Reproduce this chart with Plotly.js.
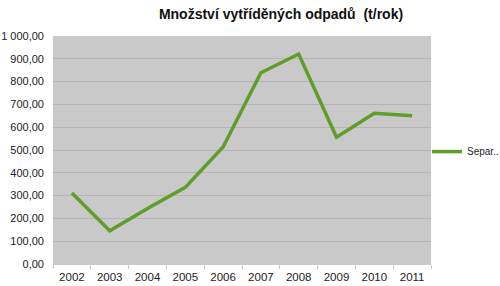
<!DOCTYPE html>
<html><head><meta charset="utf-8">
<script src="https://cdn.plot.ly/plotly-3.0.1.min.js"></script>
<style>html,body{margin:0;padding:0;background:#fff}#c{width:500px;height:286px}</style>
</head><body><div id="c"></div>
<script>
const years = ["2002","2003","2004","2005","2006","2007","2008","2009","2010","2011"];
const values = [311, 146, 243, 336, 513, 839, 921, 556, 661, 650];
const seriesName = "Separ..";
const yTicks = [0,100,200,300,400,500,600,700,800,900,1000];
const yTickLabels = ["0,00","100,00","200,00","300,00","400,00","500,00","600,00","700,00","800,00","900,00","1 000,00"];

Plotly.newPlot('c', [{
  x: years, y: values, type: 'scatter', mode: 'lines', name: seriesName,
  line: {color: '#5f9e2a', width: 3.5}
}], {
  width: 500, height: 286,
  margin: {l: 53, r: 69, t: 36, b: 22, autoexpand: false},
  paper_bgcolor: '#ffffff', plot_bgcolor: '#c9c9c9',
  font: {family: 'Liberation Sans, Arial, sans-serif', size: 11, color: '#222'},
  title: {text: '<b>Množství vytříděných odpadů  (t/rok)</b>', x: 0.562, xanchor: 'center', y: 0.95, yanchor: 'middle',
          font: {size: 14, color: '#111', family: 'Liberation Sans, Arial, sans-serif'}},
  xaxis: {type: 'category', range: [-0.5, 9.5], tickson: 'boundaries', ticks: 'outside', ticklen: 4,
          tickcolor: '#c8c8c8', showline: true, linecolor: '#c8c8c8', showgrid: false, fixedrange: true,
          ticklabelstandoff: 2, tickfont: {size: 11.5, color: '#222'}},
  yaxis: {range: [0, 1000], tickvals: yTicks, ticktext: yTickLabels, showgrid: true, gridcolor: '#b5b5b5',
          gridwidth: 1, zeroline: false, showline: false, ticks: '', ticklabelstandoff: 8, fixedrange: true,
          tickfont: {size: 11, color: '#222'}},
  showlegend: true,
  legend: {xref: 'container', yref: 'container', x: 0.854, xanchor: 'left', y: 0.47, yanchor: 'middle',
           bgcolor: 'rgba(0,0,0,0)', font: {size: 10, color: '#222'}, itemwidth: 30, tracegroupgap: 0}
}, {staticPlot: true, displayModeBar: false});
</script></body></html>
